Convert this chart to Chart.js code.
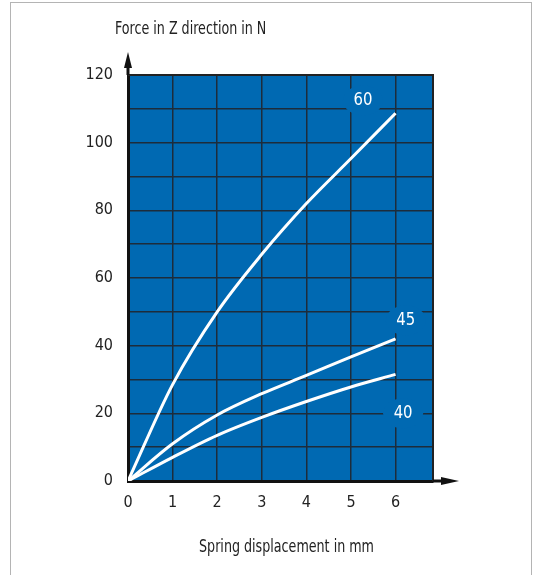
<!DOCTYPE html>
<html>
<head>
<meta charset="utf-8">
<script src="https://cdn.jsdelivr.net/npm/chart.js@4"></script>
<style>
  html, body { margin: 0; padding: 0; background: #fff; }
  #wrap { position: relative; width: 533px; height: 575px; overflow: hidden; }
  #frame { position: absolute; left: 10px; top: 2px; width: 522px; height: 600px;
           border: 1.5px solid #b4b4b4; box-sizing: border-box; pointer-events: none; }
  canvas { position: absolute; left: 0; top: 0; }
</style>
</head>
<body>
<div id="wrap">
  <canvas id="cvs" width="533" height="575"></canvas>
  <div id="frame"></div>
</div>
<script>
/* data */
const disp = [0, 1, 2, 3, 4, 5, 6];
const force60 = [0, 28.5, 50, 67, 82, 95.3, 108.7];
const force45 = [0, 11, 19.5, 25.8, 31.2, 36.7, 42];
const force40 = [0, 7, 13.5, 18.8, 23.5, 27.8, 31.5];
const curveNames = ['60', '45', '40'];
const yTicks = [0, 20, 40, 60, 80, 100, 120];
const xTicks = [0, 1, 2, 3, 4, 5, 6];

const yTitle = 'Force in Z direction in N';
const xTitle = 'Spring displacement in mm';

/* style */
const FONT = "'DejaVu Sans Condensed', 'Liberation Sans Narrow', sans-serif";
const BLUE = '#0069b2';
const GRID = '#1d2c3b';
const INK = '#222';
const SQUEEZE = 0.83;   // reference type is narrower than anything installed

// where each curve label sits, in data units
const labelAt = [[5.27, 112.5], [6.23, 47.5], [6.17, 20]];

const pts = (ys) => disp.map((x, i) => ({ x, y: ys[i] }));

const narrowText = (ctx, s, x, y, align, k = SQUEEZE) => {
  ctx.save();
  ctx.translate(x, y);
  ctx.scale(k, 1);
  ctx.textAlign = align;
  ctx.fillText(s, 0, 0);
  ctx.restore();
};

const plotBg = {
  id: 'plotBg',
  beforeDraw(c) {
    const { ctx, chartArea: a } = c;
    ctx.save();
    ctx.fillStyle = BLUE;
    ctx.fillRect(a.left, a.top, a.right - a.left, a.bottom - a.top);
    ctx.restore();
  },
  afterDatasetsDraw(c) {
    const { ctx, chartArea: a, scales: { x, y } } = c;
    ctx.save();
    // top + right frame
    ctx.strokeStyle = '#222';
    ctx.lineWidth = 2;
    ctx.beginPath();
    ctx.moveTo(a.left, a.top); ctx.lineTo(a.right, a.top); ctx.lineTo(a.right, a.bottom);
    ctx.stroke();
    // curve labels
    curveNames.forEach((n, i) => {
      const px = x.getPixelForValue(labelAt[i][0]);
      const py = y.getPixelForValue(labelAt[i][1]);
      ctx.fillStyle = BLUE;
      ctx.beginPath();
      ctx.ellipse(px, py, 20, 15, 0, 0, Math.PI * 2);
      ctx.fill();
      ctx.fillStyle = '#fff';
      ctx.font = '18px ' + FONT;
      ctx.textBaseline = 'middle';
      narrowText(ctx, n, px, py, 'center', 0.92);
    });
    ctx.restore();
  },
  afterDraw(c) {
    const { ctx, chartArea: a } = c;
    ctx.save();
    ctx.fillStyle = '#111';
    ctx.strokeStyle = '#111';
    ctx.lineWidth = 3;
    // y axis arrow
    ctx.beginPath();
    ctx.moveTo(a.left, a.top); ctx.lineTo(a.left, a.top - 10); ctx.stroke();
    ctx.beginPath();
    ctx.moveTo(a.left, a.top - 23);
    ctx.lineTo(a.left - 4, a.top - 7);
    ctx.lineTo(a.left + 4, a.top - 7);
    ctx.closePath(); ctx.fill();
    // x axis arrow
    ctx.beginPath();
    ctx.moveTo(a.right, a.bottom); ctx.lineTo(a.right + 10, a.bottom); ctx.stroke();
    ctx.beginPath();
    ctx.moveTo(a.right + 26, a.bottom);
    ctx.lineTo(a.right + 8, a.bottom - 4);
    ctx.lineTo(a.right + 8, a.bottom + 4);
    ctx.closePath(); ctx.fill();
    // titles
    ctx.fillStyle = INK;
    ctx.font = '17px ' + FONT;
    ctx.textBaseline = 'middle';
    narrowText(ctx, yTitle, a.left - 13, 30, 'left');
    narrowText(ctx, xTitle, (a.left + a.right) / 2 + 6, a.bottom + 67, 'center');
    ctx.restore();
  }
};

const line = (data) => ({
  data: pts(data),
  borderColor: '#fff',
  borderWidth: 3,
  pointRadius: 0,
  cubicInterpolationMode: 'monotone',
  fill: false
});

new Chart(document.getElementById('cvs'), {
  type: 'line',
  data: { datasets: [line(force60), line(force45), line(force40)] },
  options: {
    responsive: false,
    animation: false,
    devicePixelRatio: 1,
    layout: { padding: { left: 0, top: 75, right: 100, bottom: 0 } },
    plugins: { legend: { display: false }, tooltip: { enabled: false } },
    scales: {
      x: {
        type: 'linear', min: 0, max: 6.84,
        afterFit: s => { s.height = 94; },
        afterBuildTicks: s => { s.ticks = xTicks.map(v => ({ value: v })); },
        grid: { color: GRID, lineWidth: 1.5, drawTicks: false },
        border: { display: true, color: '#111', width: 3 },
        ticks: { color: INK, padding: 12, font: { family: FONT, size: 16 } }
      },
      y: {
        min: 0, max: 120,
        afterFit: s => { s.width = 128; },
        afterBuildTicks: s => {
          const t = [];
          for (let v = 0; v <= 120; v += 10) t.push({ value: v });
          s.ticks = t;
        },
        grid: { color: GRID, lineWidth: 1.5, drawTicks: false },
        border: { display: true, color: '#111', width: 3 },
        ticks: {
          color: INK, padding: 15, font: { family: FONT, size: 16 },
          callback: v => yTicks.includes(v) ? String(v) : ''
        }
      }
    }
  },
  plugins: [plotBg]
});
</script>
</body>
</html>
